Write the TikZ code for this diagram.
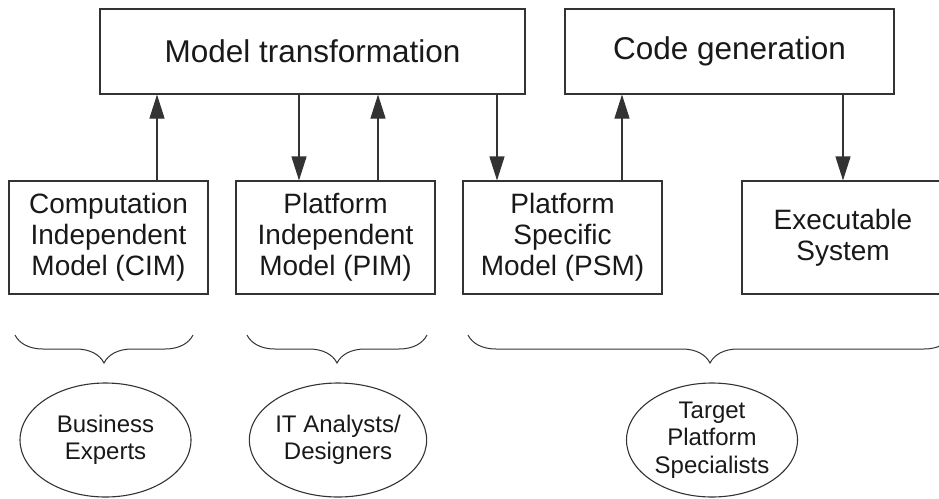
\documentclass[tikz,border=0pt]{standalone}
\usepackage{fontspec}
\setmainfont{Liberation Sans}
\usetikzlibrary{arrows.meta,shapes.geometric,decorations.pathreplacing}
\begin{document}
\begin{tikzpicture}[x=1pt,y=-1pt,
  line/.style={draw=black!80, line width=1.1pt},
  box/.style={line, rectangle, inner sep=0pt, align=center, text=black!90,
    minimum width=199pt, minimum height=113pt, font=\fontsize{28}{31}\selectfont},
  proc/.style={line, rectangle, inner sep=0pt, align=center, text=black!90,
    minimum height=85pt, font=\fontsize{31.5}{36}\selectfont},
  ell/.style={line, ellipse, inner sep=0pt, align=center, text=black!90,
    minimum width=171pt, minimum height=114pt, font=\fontsize{24}{27.5}\selectfont},
  arr/.style={line, -{Triangle[length=24pt,width=15pt]}},
  brc/.style={draw=black!80, line width=1pt, decorate,
    decoration={brace, mirror, amplitude=28pt}}
]
\useasboundingbox (0,0) rectangle (939,498);
\clip (0,0) rectangle (939,498);

\node[proc, minimum width=425pt] (mt) at (312.5,51.5) {Model transformation};
\node[proc, minimum width=329pt] (cg) at (729.5,51.5) {Code generation};

\node[box] (cim) at (108.5,237.5) {Computation\\Independent\\Model (CIM)};
\node[box] (pim) at (335.5,237.5) {Platform\\Independent\\Model (PIM)};
\node[box] (psm) at (562.5,237.5) {Platform\\Specific\\Model (PSM)};
\node[box, minimum width=202pt] (exe) at (843,237.5) {Executable\\System};

\draw[arr] ([xshift=48.5pt]cim.north) -- ([xshift=48.5pt]cim.north |- mt.south);
\draw[arr] ([xshift=-36.5pt]pim.north |- mt.south) -- ([xshift=-36.5pt]pim.north);
\draw[arr] ([xshift=42.5pt]pim.north) -- ([xshift=42.5pt]pim.north |- mt.south);
\draw[arr] ([xshift=-65.5pt]psm.north |- mt.south) -- ([xshift=-65.5pt]psm.north);
\draw[arr] ([xshift=59.5pt]psm.north) -- ([xshift=59.5pt]psm.north |- cg.south);
\draw[arr] (exe.north |- cg.south) -- (exe.north);

\coordinate (b1a) at (15,335);  \coordinate (b1b) at (193,335);
\coordinate (b2a) at (247,335); \coordinate (b2b) at (427,335);
\coordinate (b3a) at (468,335); \coordinate (b3b) at (952,335);
\draw[brc] (b1a) -- (b1b);
\draw[brc] (b2a) -- (b2b);
\draw[brc] (b3a) -- (b3b);

\node[ell] (be) at (105.5,440) {Business\\Experts};
\node[ell] (it) at (338,440) {IT Analysts/\\Designers};
\node[ell] (tps) at (712,440) {Target\\Platform\\Specialists};
\end{tikzpicture}
\end{document}
